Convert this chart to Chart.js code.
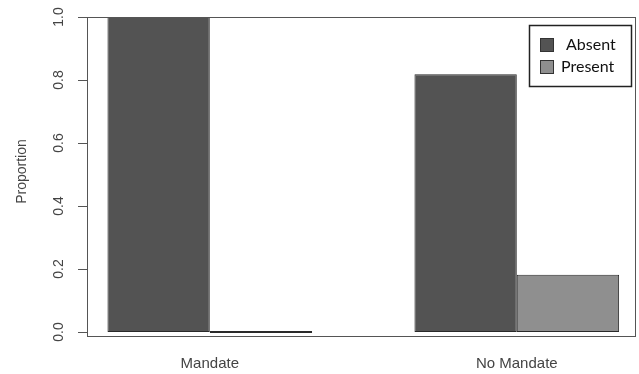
<!DOCTYPE html>
<html>
<head>
<meta charset="utf-8">
<script src="https://cdn.jsdelivr.net/npm/chart.js@4.4.1/dist/chart.umd.min.js"></script>
<style>
  html, body { margin: 0; padding: 0; background: #ffffff; }
  #wrap { width: 639px; height: 374px; position: relative; }
</style>
</head>
<body>
<div id="wrap"><canvas id="c" width="639" height="374"></canvas></div>
<script>
const categories = ['Mandate', 'No Mandate'];
const absentValues = [1.0, 0.818];
const presentValues = [0.0, 0.182];
const seriesNames = ['Absent', 'Present'];
const yTickValues = [0.0, 0.2, 0.4, 0.6, 0.8, 1.0];
const yTickLabels = ['0.0', '0.2', '0.4', '0.6', '0.8', '1.0'];
const yTitle = 'Proportion';

// group centre on the linear x-axis (R barplot style: bars width 1, gap 1)
const groupPos = categories.map((c, i) => 2 + 3 * i);

const fillColors = ['#535353', '#8f8f8f'];
const borderColor = '#2a2a2a';
const textColor = '#444444';

const rPlot = {
  id: 'rPlot',
  afterDraw(chart) {
    const ctx = chart.ctx;
    const a = chart.chartArea;
    const ys = chart.scales.y;
    const xs = chart.scales.x;
    ctx.save();
    // box
    ctx.strokeStyle = '#555555';
    ctx.lineWidth = 1;
    ctx.strokeRect(Math.round(a.left) + 0.5, Math.round(a.top) + 0.5,
                   Math.round(a.right - a.left) - 1, Math.round(a.bottom - a.top));
    // y axis line + ticks
    const y0 = ys.getPixelForValue(yTickValues[0]);
    const y1 = ys.getPixelForValue(yTickValues[yTickValues.length - 1]);
    ctx.beginPath();
    ctx.moveTo(a.left + 0.5, Math.round(y0) + 0.5);
    ctx.lineTo(a.left + 0.5, Math.round(y1) + 0.5);
    yTickValues.forEach(v => {
      const py = Math.round(ys.getPixelForValue(v)) + 0.5;
      ctx.moveTo(a.left - 9, py);
      ctx.lineTo(a.left + 0.5, py);
    });
    ctx.stroke();
    // y tick labels (rotated, R style)
    ctx.fillStyle = textColor;
    ctx.font = '14px "Liberation Sans", Arial, sans-serif';
    ctx.textAlign = 'center';
    ctx.textBaseline = 'middle';
    yTickValues.forEach((v, i) => {
      const py = ys.getPixelForValue(v);
      ctx.save();
      ctx.translate(a.left - 28, py);
      ctx.rotate(-Math.PI / 2);
      ctx.fillText(yTickLabels[i], 0, 0);
      ctx.restore();
    });
    // y title
    ctx.save();
    ctx.translate(22, (y0 + y1) / 2 - 3);
    ctx.rotate(-Math.PI / 2);
    ctx.fillText(yTitle, 0, 0);
    ctx.restore();
    // x category labels
    ctx.font = '15px "Liberation Sans", Arial, sans-serif';
    categories.forEach((c, i) => {
      ctx.fillText(c, xs.getPixelForValue(groupPos[i]), a.bottom + 28);
    });
    // legend
    const lx = 529.5, ly = 25.5, lw = 102, lh = 61;
    ctx.fillStyle = '#ffffff';
    ctx.fillRect(lx, ly, lw, lh);
    ctx.strokeStyle = '#222222';
    ctx.lineWidth = 1.5;
    ctx.strokeRect(lx, ly, lw, lh);
    ctx.lineWidth = 1;
    ctx.font = '16px Lato, "Open Sans", sans-serif';
    ctx.textAlign = 'left';
    ctx.textBaseline = 'alphabetic';
    const rows = [{sy: 38.5, ty: 50, tx: 566}, {sy: 60.5, ty: 72, tx: 561}];
    seriesNames.forEach((n, i) => {
      ctx.fillStyle = fillColors[i];
      ctx.fillRect(540.5, rows[i].sy, 13, 13);
      ctx.strokeStyle = '#333333';
      ctx.strokeRect(540.5, rows[i].sy, 13, 13);
      ctx.fillStyle = '#111111';
      ctx.fillText(n, rows[i].tx, rows[i].ty);
    });
    ctx.restore();
  }
};

new Chart(document.getElementById('c'), {
  type: 'bar',
  data: {
    datasets: [
      {
        label: seriesNames[0],
        data: categories.map((c, i) => ({ x: groupPos[i], y: absentValues[i] })),
        backgroundColor: fillColors[0],
        borderColor: borderColor,
        borderWidth: 1,
        borderSkipped: false
      },
      {
        label: seriesNames[1],
        data: categories.map((c, i) => ({ x: groupPos[i], y: presentValues[i] })),
        backgroundColor: fillColors[1],
        borderColor: borderColor,
        borderWidth: 1,
        borderSkipped: false,
        minBarLength: 2
      }
    ]
  },
  options: {
    responsive: false,
    animation: false,
    devicePixelRatio: 1,
    layout: { padding: { left: 87, right: 3, top: 17, bottom: 38 } },
    categoryPercentage: 2 / 3,
    barPercentage: 1,
    plugins: { legend: { display: false }, tooltip: { enabled: false } },
    scales: {
      x: {
        type: 'linear', min: 0.8, max: 6.165, offset: false, display: false,
        afterBuildTicks: axis => { axis.ticks = groupPos.map(v => ({ value: v })); }
      },
      y: {
        type: 'linear', min: -0.0127, max: 1.0, display: false,
        afterBuildTicks: axis => { axis.ticks = yTickValues.map(v => ({ value: v })); }
      }
    }
  },
  plugins: [rPlot]
});
</script>
</body>
</html>
